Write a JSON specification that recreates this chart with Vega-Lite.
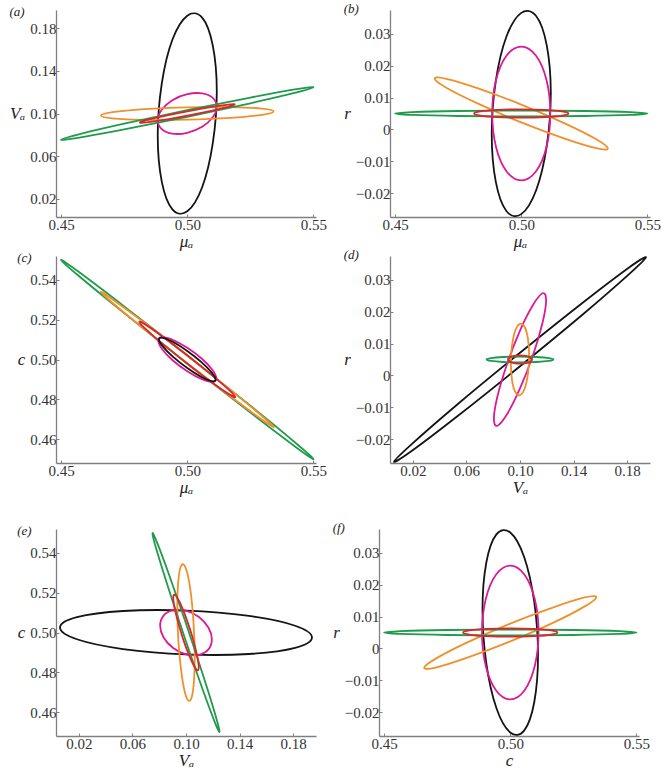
{
"$schema": "https://vega.github.io/schema/vega-lite/v6.json",
"background": "white",
"padding": {"left": 9, "top": 3, "right": 0, "bottom": 2},
"config": {
 "view": {"stroke": null},
 "font": "Liberation Serif",
 "axis": {"domainColor": "#808080", "domainWidth": 1.3, "tickColor": "#808080", "tickSize": -3, "labelFont": "Liberation Serif", "labelFontSize": 15, "labelColor": "#333333", "labelPadding": 3, "titleFont": "Liberation Serif", "titleFontSize": 17, "titleFontStyle": "italic", "titleFontWeight": "normal", "titleColor": "#222222", "grid": false},
 "axisY": {"titleAngle": 0, "titleAlign": "right", "titleBaseline": "middle", "titlePadding": 5},
 "axisX": {"titlePadding": 1},
 "title": {"font": "Liberation Serif", "fontSize": 13, "fontStyle": "italic", "fontWeight": "normal", "anchor": "start", "frame": "bounds", "offset": -9, "baseline": "bottom", "color": "#222222"}
},
"data": {"values": [
{"p":"a","s":"k","i":0,"x":0.5117,"y":0.1207},{"p":"a","s":"k","i":1,"x":0.5101,"y":0.1638},{"p":"a","s":"k","i":2,"x":0.5059,"y":0.1898},{"p":"a","s":"k","i":3,"x":0.5,"y":0.1917},{"p":"a","s":"k","i":4,"x":0.4941,"y":0.1691},{"p":"a","s":"k","i":5,"x":0.4899,"y":0.128},{"p":"a","s":"k","i":6,"x":0.4883,"y":0.0793},{"p":"a","s":"k","i":7,"x":0.4899,"y":0.0362},{"p":"a","s":"k","i":8,"x":0.4941,"y":0.0102},{"p":"a","s":"k","i":9,"x":0.5,"y":0.0083},{"p":"a","s":"k","i":10,"x":0.5059,"y":0.0309},{"p":"a","s":"k","i":11,"x":0.5101,"y":0.072},
{"p":"a","s":"m","i":0,"x":0.5117,"y":0.1063},{"p":"a","s":"m","i":1,"x":0.5101,"y":0.1146},{"p":"a","s":"m","i":2,"x":0.5059,"y":0.1189},{"p":"a","s":"m","i":3,"x":0.5,"y":0.1181},{"p":"a","s":"m","i":4,"x":0.4941,"y":0.1125},{"p":"a","s":"m","i":5,"x":0.4899,"y":0.1036},{"p":"a","s":"m","i":6,"x":0.4883,"y":0.0937},{"p":"a","s":"m","i":7,"x":0.4899,"y":0.0854},{"p":"a","s":"m","i":8,"x":0.4941,"y":0.0811},{"p":"a","s":"m","i":9,"x":0.5,"y":0.0819},{"p":"a","s":"m","i":10,"x":0.5059,"y":0.0875},{"p":"a","s":"m","i":11,"x":0.5101,"y":0.0964},
{"p":"a","s":"o","i":0,"x":0.5342,"y":0.1018},{"p":"a","s":"o","i":1,"x":0.5296,"y":0.1045},{"p":"a","s":"o","i":2,"x":0.5171,"y":0.106},{"p":"a","s":"o","i":3,"x":0.5,"y":0.1058},{"p":"a","s":"o","i":4,"x":0.4829,"y":0.1041},{"p":"a","s":"o","i":5,"x":0.4704,"y":0.1013},{"p":"a","s":"o","i":6,"x":0.4658,"y":0.0982},{"p":"a","s":"o","i":7,"x":0.4704,"y":0.0955},{"p":"a","s":"o","i":8,"x":0.4829,"y":0.094},{"p":"a","s":"o","i":9,"x":0.5,"y":0.0942},{"p":"a","s":"o","i":10,"x":0.5171,"y":0.0959},{"p":"a","s":"o","i":11,"x":0.5296,"y":0.0987},
{"p":"a","s":"g","i":0,"x":0.55,"y":0.1245},{"p":"a","s":"g","i":1,"x":0.5433,"y":0.1228},{"p":"a","s":"g","i":2,"x":0.525,"y":0.1149},{"p":"a","s":"g","i":3,"x":0.5,"y":0.1031},{"p":"a","s":"g","i":4,"x":0.475,"y":0.0904},{"p":"a","s":"g","i":5,"x":0.4567,"y":0.0803},{"p":"a","s":"g","i":6,"x":0.45,"y":0.0755},{"p":"a","s":"g","i":7,"x":0.4567,"y":0.0772},{"p":"a","s":"g","i":8,"x":0.475,"y":0.0851},{"p":"a","s":"g","i":9,"x":0.5,"y":0.0969},{"p":"a","s":"g","i":10,"x":0.525,"y":0.1096},{"p":"a","s":"g","i":11,"x":0.5433,"y":0.1197},
{"p":"a","s":"r","i":0,"x":0.5188,"y":0.1085},{"p":"a","s":"r","i":1,"x":0.5163,"y":0.1083},{"p":"a","s":"r","i":2,"x":0.5094,"y":0.106},{"p":"a","s":"r","i":3,"x":0.5,"y":0.102},{"p":"a","s":"r","i":4,"x":0.4906,"y":0.0975},{"p":"a","s":"r","i":5,"x":0.4837,"y":0.0937},{"p":"a","s":"r","i":6,"x":0.4812,"y":0.0915},{"p":"a","s":"r","i":7,"x":0.4837,"y":0.0917},{"p":"a","s":"r","i":8,"x":0.4906,"y":0.094},{"p":"a","s":"r","i":9,"x":0.5,"y":0.098},{"p":"a","s":"r","i":10,"x":0.5094,"y":0.1025},{"p":"a","s":"r","i":11,"x":0.5163,"y":0.1063},
{"p":"b","s":"k","i":0,"x":0.5117,"y":0.0114},{"p":"b","s":"k","i":1,"x":0.5101,"y":0.0264},{"p":"b","s":"k","i":2,"x":0.5059,"y":0.0356},{"p":"b","s":"k","i":3,"x":0.5,"y":0.0366},{"p":"b","s":"k","i":4,"x":0.4941,"y":0.0291},{"p":"b","s":"k","i":5,"x":0.4899,"y":0.0152},{"p":"b","s":"k","i":6,"x":0.4883,"y":-0.0014},{"p":"b","s":"k","i":7,"x":0.4899,"y":-0.0164},{"p":"b","s":"k","i":8,"x":0.4941,"y":-0.0256},{"p":"b","s":"k","i":9,"x":0.5,"y":-0.0266},{"p":"b","s":"k","i":10,"x":0.5059,"y":-0.0191},{"p":"b","s":"k","i":11,"x":0.5101,"y":-0.0052},
{"p":"b","s":"m","i":0,"x":0.5115,"y":0.005},{"p":"b","s":"m","i":1,"x":0.51,"y":0.0155},{"p":"b","s":"m","i":2,"x":0.5058,"y":0.0232},{"p":"b","s":"m","i":3,"x":0.5,"y":0.026},{"p":"b","s":"m","i":4,"x":0.4942,"y":0.0232},{"p":"b","s":"m","i":5,"x":0.49,"y":0.0155},{"p":"b","s":"m","i":6,"x":0.4885,"y":0.005},{"p":"b","s":"m","i":7,"x":0.49,"y":-0.0055},{"p":"b","s":"m","i":8,"x":0.4942,"y":-0.0132},{"p":"b","s":"m","i":9,"x":0.5,"y":-0.016},{"p":"b","s":"m","i":10,"x":0.5058,"y":-0.0132},{"p":"b","s":"m","i":11,"x":0.51,"y":-0.0055},
{"p":"b","s":"o","i":0,"x":0.5343,"y":-0.006},{"p":"b","s":"o","i":1,"x":0.5297,"y":-0.0031},{"p":"b","s":"o","i":2,"x":0.5172,"y":0.0019},{"p":"b","s":"o","i":3,"x":0.5,"y":0.0078},{"p":"b","s":"o","i":4,"x":0.4829,"y":0.0129},{"p":"b","s":"o","i":5,"x":0.4703,"y":0.0159},{"p":"b","s":"o","i":6,"x":0.4657,"y":0.016},{"p":"b","s":"o","i":7,"x":0.4703,"y":0.0131},{"p":"b","s":"o","i":8,"x":0.4829,"y":0.0081},{"p":"b","s":"o","i":9,"x":0.5,"y":0.0022},{"p":"b","s":"o","i":10,"x":0.5172,"y":-0.0029},{"p":"b","s":"o","i":11,"x":0.5297,"y":-0.0059},
{"p":"b","s":"g","i":0,"x":0.55,"y":0.005},{"p":"b","s":"g","i":1,"x":0.5433,"y":0.00545},{"p":"b","s":"g","i":2,"x":0.525,"y":0.00578},{"p":"b","s":"g","i":3,"x":0.5,"y":0.0059},{"p":"b","s":"g","i":4,"x":0.475,"y":0.00578},{"p":"b","s":"g","i":5,"x":0.4567,"y":0.00545},{"p":"b","s":"g","i":6,"x":0.45,"y":0.005},{"p":"b","s":"g","i":7,"x":0.4567,"y":0.00455},{"p":"b","s":"g","i":8,"x":0.475,"y":0.00422},{"p":"b","s":"g","i":9,"x":0.5,"y":0.0041},{"p":"b","s":"g","i":10,"x":0.525,"y":0.00422},{"p":"b","s":"g","i":11,"x":0.5433,"y":0.00455},
{"p":"b","s":"r","i":0,"x":0.5187,"y":0.005},{"p":"b","s":"r","i":1,"x":0.5162,"y":0.00565},{"p":"b","s":"r","i":2,"x":0.5094,"y":0.00613},{"p":"b","s":"r","i":3,"x":0.5,"y":0.0063},{"p":"b","s":"r","i":4,"x":0.4906,"y":0.00613},{"p":"b","s":"r","i":5,"x":0.4838,"y":0.00565},{"p":"b","s":"r","i":6,"x":0.4813,"y":0.005},{"p":"b","s":"r","i":7,"x":0.4838,"y":0.00435},{"p":"b","s":"r","i":8,"x":0.4906,"y":0.00387},{"p":"b","s":"r","i":9,"x":0.5,"y":0.0037},{"p":"b","s":"r","i":10,"x":0.5094,"y":0.00387},{"p":"b","s":"r","i":11,"x":0.5162,"y":0.00435},
{"p":"c","s":"g","i":0,"x":0.55,"y":0.45},{"p":"c","s":"g","i":1,"x":0.5433,"y":0.4577},{"p":"c","s":"g","i":2,"x":0.525,"y":0.4768},{"p":"c","s":"g","i":3,"x":0.5,"y":0.502},{"p":"c","s":"g","i":4,"x":0.475,"y":0.5267},{"p":"c","s":"g","i":5,"x":0.4567,"y":0.5443},{"p":"c","s":"g","i":6,"x":0.45,"y":0.55},{"p":"c","s":"g","i":7,"x":0.4567,"y":0.5423},{"p":"c","s":"g","i":8,"x":0.475,"y":0.5233},{"p":"c","s":"g","i":9,"x":0.5,"y":0.498},{"p":"c","s":"g","i":10,"x":0.525,"y":0.4733},{"p":"c","s":"g","i":11,"x":0.5433,"y":0.4557},
{"p":"c","s":"o","i":0,"x":0.5343,"y":0.4661},{"p":"c","s":"o","i":1,"x":0.5297,"y":0.4715},{"p":"c","s":"o","i":2,"x":0.5172,"y":0.4846},{"p":"c","s":"o","i":3,"x":0.5,"y":0.5019},{"p":"c","s":"o","i":4,"x":0.4829,"y":0.5186},{"p":"c","s":"o","i":5,"x":0.4703,"y":0.5303},{"p":"c","s":"o","i":6,"x":0.4657,"y":0.534},{"p":"c","s":"o","i":7,"x":0.4703,"y":0.5285},{"p":"c","s":"o","i":8,"x":0.4829,"y":0.5154},{"p":"c","s":"o","i":9,"x":0.5,"y":0.4981},{"p":"c","s":"o","i":10,"x":0.5172,"y":0.4814},{"p":"c","s":"o","i":11,"x":0.5297,"y":0.4697},
{"p":"c","s":"r","i":0,"x":0.519,"y":0.4811},{"p":"c","s":"r","i":1,"x":0.5165,"y":0.4847},{"p":"c","s":"r","i":2,"x":0.5095,"y":0.4924},{"p":"c","s":"r","i":3,"x":0.5,"y":0.5021},{"p":"c","s":"r","i":4,"x":0.4905,"y":0.5113},{"p":"c","s":"r","i":5,"x":0.4836,"y":0.5174},{"p":"c","s":"r","i":6,"x":0.481,"y":0.5189},{"p":"c","s":"r","i":7,"x":0.4836,"y":0.5153},{"p":"c","s":"r","i":8,"x":0.4905,"y":0.5076},{"p":"c","s":"r","i":9,"x":0.5,"y":0.4979},{"p":"c","s":"r","i":10,"x":0.5095,"y":0.4887},{"p":"c","s":"r","i":11,"x":0.5165,"y":0.4826},
{"p":"c","s":"m","i":0,"x":0.5115,"y":0.4905},{"p":"c","s":"m","i":1,"x":0.51,"y":0.4947},{"p":"c","s":"m","i":2,"x":0.5058,"y":0.5004},{"p":"c","s":"m","i":3,"x":0.5,"y":0.5059},{"p":"c","s":"m","i":4,"x":0.4942,"y":0.5099},{"p":"c","s":"m","i":5,"x":0.49,"y":0.5112},{"p":"c","s":"m","i":6,"x":0.4885,"y":0.5095},{"p":"c","s":"m","i":7,"x":0.49,"y":0.5053},{"p":"c","s":"m","i":8,"x":0.4942,"y":0.4996},{"p":"c","s":"m","i":9,"x":0.5,"y":0.4941},{"p":"c","s":"m","i":10,"x":0.5058,"y":0.4901},{"p":"c","s":"m","i":11,"x":0.51,"y":0.4888},
{"p":"c","s":"k","i":0,"x":0.5112,"y":0.4899},{"p":"c","s":"k","i":1,"x":0.5097,"y":0.4934},{"p":"c","s":"k","i":2,"x":0.5056,"y":0.4987},{"p":"c","s":"k","i":3,"x":0.5,"y":0.5043},{"p":"c","s":"k","i":4,"x":0.4944,"y":0.5088},{"p":"c","s":"k","i":5,"x":0.4903,"y":0.5109},{"p":"c","s":"k","i":6,"x":0.4888,"y":0.5101},{"p":"c","s":"k","i":7,"x":0.4903,"y":0.5066},{"p":"c","s":"k","i":8,"x":0.4944,"y":0.5013},{"p":"c","s":"k","i":9,"x":0.5,"y":0.4957},{"p":"c","s":"k","i":10,"x":0.5056,"y":0.4912},{"p":"c","s":"k","i":11,"x":0.5097,"y":0.4891},
{"p":"d","s":"k","i":0,"x":0.194,"y":0.0371},{"p":"d","s":"k","i":1,"x":0.1814,"y":0.0339},{"p":"d","s":"k","i":2,"x":0.147,"y":0.0229},{"p":"d","s":"k","i":3,"x":0.1,"y":0.0071},{"p":"d","s":"k","i":4,"x":0.053,"y":-0.0092},{"p":"d","s":"k","i":5,"x":0.0186,"y":-0.0218},{"p":"d","s":"k","i":6,"x":0.006,"y":-0.0271},{"p":"d","s":"k","i":7,"x":0.0186,"y":-0.0239},{"p":"d","s":"k","i":8,"x":0.053,"y":-0.0129},{"p":"d","s":"k","i":9,"x":0.1,"y":0.0029},{"p":"d","s":"k","i":10,"x":0.147,"y":0.0192},{"p":"d","s":"k","i":11,"x":0.1814,"y":0.0318},
{"p":"d","s":"m","i":0,"x":0.1195,"y":0.0237},{"p":"d","s":"m","i":1,"x":0.1169,"y":0.0258},{"p":"d","s":"m","i":2,"x":0.1098,"y":0.0222},{"p":"d","s":"m","i":3,"x":0.1,"y":0.0141},{"p":"d","s":"m","i":4,"x":0.0903,"y":0.0035},{"p":"d","s":"m","i":5,"x":0.0831,"y":-0.0067},{"p":"d","s":"m","i":6,"x":0.0805,"y":-0.0137},{"p":"d","s":"m","i":7,"x":0.0831,"y":-0.0158},{"p":"d","s":"m","i":8,"x":0.0903,"y":-0.0122},{"p":"d","s":"m","i":9,"x":0.1,"y":-0.0041},{"p":"d","s":"m","i":10,"x":0.1098,"y":0.0065},{"p":"d","s":"m","i":11,"x":0.1169,"y":0.0167},
{"p":"d","s":"o","i":0,"x":0.1068,"y":0.0061},{"p":"d","s":"o","i":1,"x":0.1059,"y":0.0116},{"p":"d","s":"o","i":2,"x":0.1034,"y":0.0153},{"p":"d","s":"o","i":3,"x":0.1,"y":0.0162},{"p":"d","s":"o","i":4,"x":0.0966,"y":0.0142},{"p":"d","s":"o","i":5,"x":0.0941,"y":0.0096},{"p":"d","s":"o","i":6,"x":0.0932,"y":0.0039},{"p":"d","s":"o","i":7,"x":0.0941,"y":-0.0016},{"p":"d","s":"o","i":8,"x":0.0966,"y":-0.0053},{"p":"d","s":"o","i":9,"x":0.1,"y":-0.0062},{"p":"d","s":"o","i":10,"x":0.1034,"y":-0.0042},{"p":"d","s":"o","i":11,"x":0.1059,"y":0.0004},
{"p":"d","s":"g","i":0,"x":0.125,"y":0.005},{"p":"d","s":"g","i":1,"x":0.1217,"y":0.00545},{"p":"d","s":"g","i":2,"x":0.1125,"y":0.00578},{"p":"d","s":"g","i":3,"x":0.1,"y":0.0059},{"p":"d","s":"g","i":4,"x":0.0875,"y":0.00578},{"p":"d","s":"g","i":5,"x":0.0783,"y":0.00545},{"p":"d","s":"g","i":6,"x":0.075,"y":0.005},{"p":"d","s":"g","i":7,"x":0.0783,"y":0.00455},{"p":"d","s":"g","i":8,"x":0.0875,"y":0.00422},{"p":"d","s":"g","i":9,"x":0.1,"y":0.0041},{"p":"d","s":"g","i":10,"x":0.1125,"y":0.00422},{"p":"d","s":"g","i":11,"x":0.1217,"y":0.00455},
{"p":"d","s":"r","i":0,"x":0.109,"y":0.005},{"p":"d","s":"r","i":1,"x":0.1078,"y":0.00565},{"p":"d","s":"r","i":2,"x":0.1045,"y":0.00613},{"p":"d","s":"r","i":3,"x":0.1,"y":0.0063},{"p":"d","s":"r","i":4,"x":0.0955,"y":0.00613},{"p":"d","s":"r","i":5,"x":0.0922,"y":0.00565},{"p":"d","s":"r","i":6,"x":0.091,"y":0.005},{"p":"d","s":"r","i":7,"x":0.0922,"y":0.00435},{"p":"d","s":"r","i":8,"x":0.0955,"y":0.00387},{"p":"d","s":"r","i":9,"x":0.1,"y":0.0037},{"p":"d","s":"r","i":10,"x":0.1045,"y":0.00387},{"p":"d","s":"r","i":11,"x":0.1078,"y":0.00435},
{"p":"e","s":"k","i":0,"x":0.194,"y":0.4975},{"p":"e","s":"k","i":1,"x":0.1814,"y":0.5034},{"p":"e","s":"k","i":2,"x":0.147,"y":0.5083},{"p":"e","s":"k","i":3,"x":0.1,"y":0.511},{"p":"e","s":"k","i":4,"x":0.053,"y":0.5108},{"p":"e","s":"k","i":5,"x":0.0186,"y":0.5077},{"p":"e","s":"k","i":6,"x":0.006,"y":0.5025},{"p":"e","s":"k","i":7,"x":0.0186,"y":0.4966},{"p":"e","s":"k","i":8,"x":0.053,"y":0.4917},{"p":"e","s":"k","i":9,"x":0.1,"y":0.489},{"p":"e","s":"k","i":10,"x":0.147,"y":0.4892},{"p":"e","s":"k","i":11,"x":0.1814,"y":0.4923},
{"p":"e","s":"m","i":0,"x":0.1193,"y":0.4966},{"p":"e","s":"m","i":1,"x":0.1167,"y":0.5025},{"p":"e","s":"m","i":2,"x":0.1097,"y":0.5078},{"p":"e","s":"m","i":3,"x":0.1,"y":0.511},{"p":"e","s":"m","i":4,"x":0.0904,"y":0.5112},{"p":"e","s":"m","i":5,"x":0.0833,"y":0.5085},{"p":"e","s":"m","i":6,"x":0.0807,"y":0.5034},{"p":"e","s":"m","i":7,"x":0.0833,"y":0.4975},{"p":"e","s":"m","i":8,"x":0.0904,"y":0.4922},{"p":"e","s":"m","i":9,"x":0.1,"y":0.489},{"p":"e","s":"m","i":10,"x":0.1097,"y":0.4888},{"p":"e","s":"m","i":11,"x":0.1167,"y":0.4915},
{"p":"e","s":"o","i":0,"x":0.1065,"y":0.4873},{"p":"e","s":"o","i":1,"x":0.1056,"y":0.505},{"p":"e","s":"o","i":2,"x":0.1033,"y":0.5213},{"p":"e","s":"o","i":3,"x":0.1,"y":0.532},{"p":"e","s":"o","i":4,"x":0.0968,"y":0.534},{"p":"e","s":"o","i":5,"x":0.0944,"y":0.527},{"p":"e","s":"o","i":6,"x":0.0935,"y":0.5127},{"p":"e","s":"o","i":7,"x":0.0944,"y":0.495},{"p":"e","s":"o","i":8,"x":0.0968,"y":0.4787},{"p":"e","s":"o","i":9,"x":0.1,"y":0.468},{"p":"e","s":"o","i":10,"x":0.1033,"y":0.466},{"p":"e","s":"o","i":11,"x":0.1056,"y":0.473},
{"p":"e","s":"g","i":0,"x":0.125,"y":0.4502},{"p":"e","s":"g","i":1,"x":0.1217,"y":0.4591},{"p":"e","s":"g","i":2,"x":0.1125,"y":0.479},{"p":"e","s":"g","i":3,"x":0.1,"y":0.5045},{"p":"e","s":"g","i":4,"x":0.0875,"y":0.5288},{"p":"e","s":"g","i":5,"x":0.0783,"y":0.5454},{"p":"e","s":"g","i":6,"x":0.075,"y":0.5498},{"p":"e","s":"g","i":7,"x":0.0783,"y":0.5409},{"p":"e","s":"g","i":8,"x":0.0875,"y":0.521},{"p":"e","s":"g","i":9,"x":0.1,"y":0.4955},{"p":"e","s":"g","i":10,"x":0.1125,"y":0.4712},{"p":"e","s":"g","i":11,"x":0.1217,"y":0.4546},
{"p":"e","s":"r","i":0,"x":0.1095,"y":0.4825},{"p":"e","s":"r","i":1,"x":0.1082,"y":0.4886},{"p":"e","s":"r","i":2,"x":0.1048,"y":0.4977},{"p":"e","s":"r","i":3,"x":0.1,"y":0.5075},{"p":"e","s":"r","i":4,"x":0.0953,"y":0.5152},{"p":"e","s":"r","i":5,"x":0.0918,"y":0.5189},{"p":"e","s":"r","i":6,"x":0.0905,"y":0.5175},{"p":"e","s":"r","i":7,"x":0.0918,"y":0.5114},{"p":"e","s":"r","i":8,"x":0.0953,"y":0.5023},{"p":"e","s":"r","i":9,"x":0.1,"y":0.4925},{"p":"e","s":"r","i":10,"x":0.1048,"y":0.4848},{"p":"e","s":"r","i":11,"x":0.1082,"y":0.4811},
{"p":"f","s":"k","i":0,"x":0.511,"y":-0.0021},{"p":"f","s":"k","i":1,"x":0.5095,"y":0.0146},{"p":"f","s":"k","i":2,"x":0.5055,"y":0.0287},{"p":"f","s":"k","i":3,"x":0.5,"y":0.0364},{"p":"f","s":"k","i":4,"x":0.4945,"y":0.0358},{"p":"f","s":"k","i":5,"x":0.4905,"y":0.0269},{"p":"f","s":"k","i":6,"x":0.489,"y":0.0121},{"p":"f","s":"k","i":7,"x":0.4905,"y":-0.0046},{"p":"f","s":"k","i":8,"x":0.4945,"y":-0.0187},{"p":"f","s":"k","i":9,"x":0.5,"y":-0.0264},{"p":"f","s":"k","i":10,"x":0.5055,"y":-0.0258},{"p":"f","s":"k","i":11,"x":0.5095,"y":-0.0169},
{"p":"f","s":"m","i":0,"x":0.5112,"y":0.005},{"p":"f","s":"m","i":1,"x":0.5097,"y":0.0155},{"p":"f","s":"m","i":2,"x":0.5056,"y":0.0232},{"p":"f","s":"m","i":3,"x":0.5,"y":0.026},{"p":"f","s":"m","i":4,"x":0.4944,"y":0.0232},{"p":"f","s":"m","i":5,"x":0.4903,"y":0.0155},{"p":"f","s":"m","i":6,"x":0.4888,"y":0.005},{"p":"f","s":"m","i":7,"x":0.4903,"y":-0.0055},{"p":"f","s":"m","i":8,"x":0.4944,"y":-0.0132},{"p":"f","s":"m","i":9,"x":0.5,"y":-0.016},{"p":"f","s":"m","i":10,"x":0.5056,"y":-0.0132},{"p":"f","s":"m","i":11,"x":0.5097,"y":-0.0055},
{"p":"f","s":"o","i":0,"x":0.5341,"y":0.0161},{"p":"f","s":"o","i":1,"x":0.5295,"y":0.016},{"p":"f","s":"o","i":2,"x":0.5171,"y":0.0129},{"p":"f","s":"o","i":3,"x":0.5,"y":0.0078},{"p":"f","s":"o","i":4,"x":0.483,"y":0.0019},{"p":"f","s":"o","i":5,"x":0.4705,"y":-0.0032},{"p":"f","s":"o","i":6,"x":0.4659,"y":-0.0061},{"p":"f","s":"o","i":7,"x":0.4705,"y":-0.006},{"p":"f","s":"o","i":8,"x":0.483,"y":-0.0029},{"p":"f","s":"o","i":9,"x":0.5,"y":0.0022},{"p":"f","s":"o","i":10,"x":0.5171,"y":0.0081},{"p":"f","s":"o","i":11,"x":0.5295,"y":0.0132},
{"p":"f","s":"g","i":0,"x":0.55,"y":0.005},{"p":"f","s":"g","i":1,"x":0.5433,"y":0.00545},{"p":"f","s":"g","i":2,"x":0.525,"y":0.00578},{"p":"f","s":"g","i":3,"x":0.5,"y":0.0059},{"p":"f","s":"g","i":4,"x":0.475,"y":0.00578},{"p":"f","s":"g","i":5,"x":0.4567,"y":0.00545},{"p":"f","s":"g","i":6,"x":0.45,"y":0.005},{"p":"f","s":"g","i":7,"x":0.4567,"y":0.00455},{"p":"f","s":"g","i":8,"x":0.475,"y":0.00422},{"p":"f","s":"g","i":9,"x":0.5,"y":0.0041},{"p":"f","s":"g","i":10,"x":0.525,"y":0.00422},{"p":"f","s":"g","i":11,"x":0.5433,"y":0.00455},
{"p":"f","s":"r","i":0,"x":0.5187,"y":0.005},{"p":"f","s":"r","i":1,"x":0.5162,"y":0.00565},{"p":"f","s":"r","i":2,"x":0.5094,"y":0.00613},{"p":"f","s":"r","i":3,"x":0.5,"y":0.0063},{"p":"f","s":"r","i":4,"x":0.4906,"y":0.00613},{"p":"f","s":"r","i":5,"x":0.4838,"y":0.00565},{"p":"f","s":"r","i":6,"x":0.4813,"y":0.005},{"p":"f","s":"r","i":7,"x":0.4838,"y":0.00435},{"p":"f","s":"r","i":8,"x":0.4906,"y":0.00387},{"p":"f","s":"r","i":9,"x":0.5,"y":0.0037},{"p":"f","s":"r","i":10,"x":0.5094,"y":0.00387},{"p":"f","s":"r","i":11,"x":0.5162,"y":0.00435}
]},
"spacing": 27,
"vconcat": [
 {"spacing": 0, "vconcat": [
  {"spacing": 16, "hconcat": [
   {"transform": [{"filter": "datum.p === 'a'"}], "width": 260, "height": 207, "title": {"text": "(a)"},
    "mark": {"type": "line", "interpolate": "cardinal-closed", "strokeWidth": 1.8},
    "encoding": {
     "x": {"field": "x", "type": "quantitative", "scale": {"domain": [0.448, 0.551], "nice": false, "zero": false}, "axis": {"title": "μₐ", "values": [0.45, 0.5, 0.55], "format": ".2f"}},
     "y": {"field": "y", "type": "quantitative", "scale": {"domain": [0.003, 0.197], "nice": false, "zero": false}, "axis": {"title": "Vₐ", "values": [0.02, 0.06, 0.1, 0.14, 0.18], "format": ".2f"}},
     "color": {"field": "s", "type": "nominal", "scale": {"domain": ["k", "m", "o", "g", "r"], "range": ["#141414", "#dc1a93", "#f0902c", "#1f9b4b", "#d8282c"]}, "legend": null},
     "order": {"field": "i", "type": "quantitative"}}},
   {"transform": [{"filter": "datum.p === 'b'"}], "width": 260, "height": 207, "title": {"text": "(b)"},
    "mark": {"type": "line", "interpolate": "cardinal-closed", "strokeWidth": 1.8},
    "encoding": {
     "x": {"field": "x", "type": "quantitative", "scale": {"domain": [0.448, 0.551], "nice": false, "zero": false}, "axis": {"title": "μₐ", "values": [0.45, 0.5, 0.55], "format": ".2f"}},
     "y": {"field": "y", "type": "quantitative", "scale": {"domain": [-0.0275, 0.0375], "nice": false, "zero": false}, "axis": {"title": "r", "values": [-0.02, -0.01, 0, 0.01, 0.02, 0.03], "labelExpr": "datum.value === 0 ? '0' : format(datum.value, '.2f')"}},
     "color": {"field": "s", "type": "nominal", "scale": {"domain": ["k", "m", "o", "g", "r"], "range": ["#141414", "#dc1a93", "#f0902c", "#1f9b4b", "#d8282c"]}, "legend": null},
     "order": {"field": "i", "type": "quantitative"}}}
  ]},
  {"spacing": 16, "hconcat": [
   {"transform": [{"filter": "datum.p === 'c'"}], "width": 260, "height": 207, "title": {"text": "(c)"},
    "mark": {"type": "line", "interpolate": "cardinal-closed", "strokeWidth": 1.8},
    "encoding": {
     "x": {"field": "x", "type": "quantitative", "scale": {"domain": [0.448, 0.551], "nice": false, "zero": false}, "axis": {"title": "μₐ", "values": [0.45, 0.5, 0.55], "format": ".2f"}},
     "y": {"field": "y", "type": "quantitative", "scale": {"domain": [0.448, 0.552], "nice": false, "zero": false}, "axis": {"title": "c", "values": [0.46, 0.48, 0.5, 0.52, 0.54], "format": ".2f"}},
     "color": {"field": "s", "type": "nominal", "scale": {"domain": ["k", "m", "o", "g", "r"], "range": ["#141414", "#dc1a93", "#f0902c", "#1f9b4b", "#d8282c"]}, "legend": null},
     "order": {"field": "i", "type": "quantitative"}}},
   {"transform": [{"filter": "datum.p === 'd'"}], "width": 260, "height": 207, "title": {"text": "(d)"},
    "mark": {"type": "line", "interpolate": "cardinal-closed", "strokeWidth": 1.8},
    "encoding": {
     "x": {"field": "x", "type": "quantitative", "scale": {"domain": [0.003, 0.197], "nice": false, "zero": false}, "axis": {"title": "Vₐ", "values": [0.02, 0.06, 0.1, 0.14, 0.18], "format": ".2f"}},
     "y": {"field": "y", "type": "quantitative", "scale": {"domain": [-0.0275, 0.0375], "nice": false, "zero": false}, "axis": {"title": "r", "values": [-0.02, -0.01, 0, 0.01, 0.02, 0.03], "labelExpr": "datum.value === 0 ? '0' : format(datum.value, '.2f')"}},
     "color": {"field": "s", "type": "nominal", "scale": {"domain": ["k", "m", "o", "g", "r"], "range": ["#141414", "#dc1a93", "#f0902c", "#1f9b4b", "#d8282c"]}, "legend": null},
     "order": {"field": "i", "type": "quantitative"}}}
  ]}
 ]},
 {"spacing": 16, "hconcat": [
  {"transform": [{"filter": "datum.p === 'e'"}], "width": 260, "height": 207, "title": {"text": "(e)"},
   "mark": {"type": "line", "interpolate": "cardinal-closed", "strokeWidth": 1.8},
   "encoding": {
    "x": {"field": "x", "type": "quantitative", "scale": {"domain": [0.003, 0.197], "nice": false, "zero": false}, "axis": {"title": "Vₐ", "values": [0.02, 0.06, 0.1, 0.14, 0.18], "format": ".2f"}},
    "y": {"field": "y", "type": "quantitative", "scale": {"domain": [0.448, 0.552], "nice": false, "zero": false}, "axis": {"title": "c", "values": [0.46, 0.48, 0.5, 0.52, 0.54], "format": ".2f"}},
    "color": {"field": "s", "type": "nominal", "scale": {"domain": ["k", "m", "o", "g", "r"], "range": ["#141414", "#dc1a93", "#f0902c", "#1f9b4b", "#d8282c"]}, "legend": null},
    "order": {"field": "i", "type": "quantitative"}}},
  {"transform": [{"filter": "datum.p === 'f'"}], "width": 260, "height": 207, "title": {"text": "(f)"},
   "mark": {"type": "line", "interpolate": "cardinal-closed", "strokeWidth": 1.8},
   "encoding": {
    "x": {"field": "x", "type": "quantitative", "scale": {"domain": [0.448, 0.551], "nice": false, "zero": false}, "axis": {"title": "c", "values": [0.45, 0.5, 0.55], "format": ".2f"}},
    "y": {"field": "y", "type": "quantitative", "scale": {"domain": [-0.0275, 0.0375], "nice": false, "zero": false}, "axis": {"title": "r", "values": [-0.02, -0.01, 0, 0.01, 0.02, 0.03], "labelExpr": "datum.value === 0 ? '0' : format(datum.value, '.2f')"}},
    "color": {"field": "s", "type": "nominal", "scale": {"domain": ["k", "m", "o", "g", "r"], "range": ["#141414", "#dc1a93", "#f0902c", "#1f9b4b", "#d8282c"]}, "legend": null},
    "order": {"field": "i", "type": "quantitative"}}}
 ]}
]
}
